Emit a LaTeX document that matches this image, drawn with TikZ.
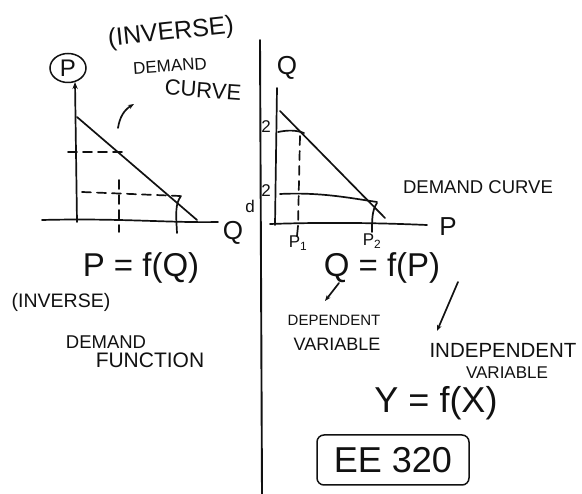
\documentclass[tikz,border=0pt]{standalone}
\usepackage{fontspec}
\setmainfont{Liberation Sans}
\usetikzlibrary{arrows.meta,calc,positioning,shapes.geometric}
\definecolor{InkLine}{HTML}{111111}
\definecolor{PaperWhite}{HTML}{FFFFFF}
\newcommand{\inksize}[1]{\fontsize{#1}{#1}\selectfont}
\tikzset{
  scrawl/.style={text=InkLine,inner sep=1pt,font=\inksize{17}},
  bigscrawl/.style={scrawl,font=\inksize{26}},
  formula/.style={scrawl,font=\inksize{33}},
  pen/.style={InkLine,line width=1.7pt,line cap=round,line join=round},
  dashpen/.style={pen,dash pattern=on 9pt off 6pt},
}
\begin{document}
\begin{tikzpicture}[x=1pt,y=-1pt]
  \fill[PaperWhite] (0,0) rectangle (582,494);
  \useasboundingbox (0,0) rectangle (582,494);

  % left graph: inverse demand
  \node[scrawl,font=\inksize{24},draw=InkLine,line width=1.5pt,ellipse,minimum width=36,minimum height=29,inner sep=0pt]
    (pcirc) at (68,68) {P};
  \coordinate (lorig) at (77,222);
  \draw[pen,-{Stealth[length=7pt]}] (lorig) -- (75,82);
  \draw[pen] (42,220) .. controls (120,218) and (170,223) .. (218,222);
  \node[bigscrawl] (lqlbl) at (233,233) {Q};
  \node[scrawl] (ldlbl) at (250,206) {d};
  \coordinate (ltop) at (77,117);
  \coordinate (lbot) at (197,220);
  \draw[pen] (ltop) -- (lbot);
  \draw[dashpen] (68,152) -- (122,152);
  \draw[dashpen] (82,192) -- (180,196);
  \draw[dashpen] (119,180) -- (119,232);
  \draw[pen] (181,196) .. controls (175,204) and (176,214) .. (177,233);

  \node[scrawl,font=\inksize{25},rotate=6] (invlbl) at (171,33) {(INVERSE)};
  \node[scrawl,rotate=4] (demlbl) at (170,66) {DEMAND};
  \node[scrawl,font=\inksize{22},rotate=-4] (curvelbl) at (203,90) {CURVE};
  \coordinate (crvfoot) at (118,128);
  \coordinate (crvtip) at (134,104);
  \draw[pen,-{Stealth[length=6pt]}] (crvfoot) to[bend left=25] (crvtip);

  % divider
  \draw[pen,line width=1.9pt] (260,40) -- (262,494);

  % right graph: demand
  \node[bigscrawl] (rqlbl) at (287,68) {Q};
  \coordinate (rorig) at (275,225);
  \draw[pen] (277,88) -- (rorig);
  \draw[pen] (270,224) .. controls (330,222) and (380,223) .. (427,225);
  \node[bigscrawl] (rplbl) at (448,227) {P};
  \coordinate (rtop) at (280,111);
  \coordinate (rbot) at (385,218);
  \draw[pen] (rtop) -- (rbot);
  \draw[pen] (278,132) .. controls (288,130) and (296,130) .. (304,133);
  \draw[pen] (280,194) .. controls (320,192) and (350,198) .. (377,202);
  \node[scrawl] (q1lbl) at (266,127) {2};
  \node[scrawl] (q2lbl) at (266,191) {2};
  \draw[dashpen] (300,136) -- (298,226);
  \draw[pen] (298,226) -- (297,236);
  \draw[pen] (377,203) .. controls (372,210) and (372,220) .. (372,232);
  \node[scrawl] (p1lbl) at (298,243) {P\textsubscript{1}};
  \node[scrawl] (p2lbl) at (372,241) {P\textsubscript{2}};
  \node[scrawl,font=\inksize{18.5}] (dcurve) at (478,187) {DEMAND CURVE};

  % functions
  \node[formula] (invfn) at (141,268) {P = f(Q)};
  \node[scrawl,font=\inksize{19.5}] (invtag) at (61,302) {(INVERSE)};
  \node[scrawl,font=\inksize{18.5}] (demfn) at (106,342) {DEMAND};
  \node[scrawl,font=\inksize{21}] (funclbl) at (150,360) {FUNCTION};

  \node[formula] (dirfn) at (382,268) {Q = f(P)};
  \node[scrawl,font=\inksize{15}] (dep) at (334,320) {DEPENDENT};
  \node[scrawl,font=\inksize{18}] (deplbl) at (337,344) {VARIABLE};
  \node[scrawl,font=\inksize{20.5}] (indep) at (503,350) {INDEPENDENT};
  \node[scrawl] (indeplbl) at (507,373) {VARIABLE};
  \coordinate (qfoot) at (339,283);
  \coordinate (qtip) at (325,301);
  \coordinate (pfoot) at (458,282);
  \coordinate (ptip) at (437,331);
  \draw[pen,-{Stealth[length=6pt]}] (qfoot) -- (qtip);
  \draw[pen,-{Stealth[length=6pt]}] (pfoot) -- (ptip);

  \node[formula,font=\inksize{36}] (genfn) at (436,403) {Y = f(X)};
  \node[formula,font=\inksize{36},draw=InkLine,line width=1.5pt,rounded corners=7pt,minimum width=152,minimum height=50]
    (course) at (393,460) {EE 320};
\end{tikzpicture}
\end{document}
